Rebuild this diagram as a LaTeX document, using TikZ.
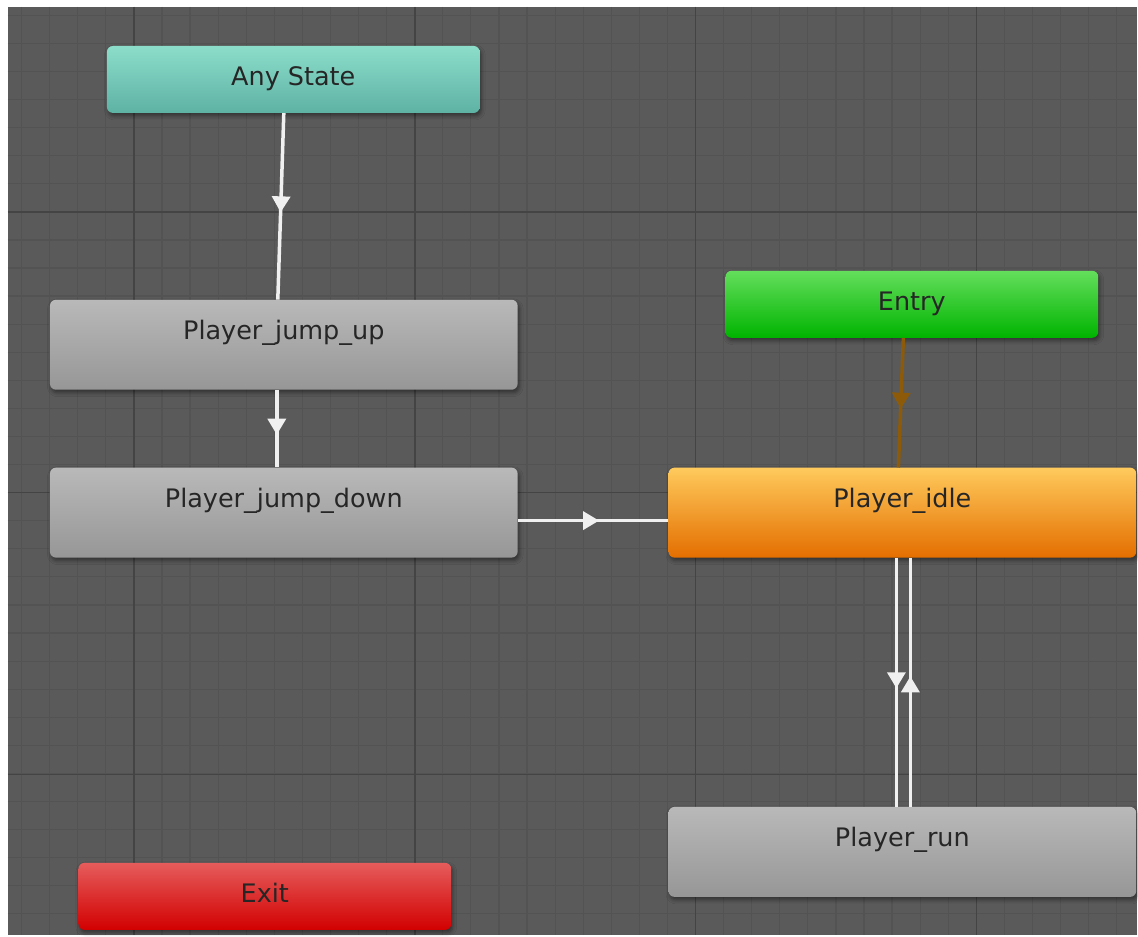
\documentclass[tikz,border=0pt]{standalone}
\usepackage{fontspec}
\setmainfont{DejaVu Sans}
\usepackage{xcolor}
\usetikzlibrary{arrows.meta, decorations.markings, shadows.blur}

% editor colours
\definecolor{canvasbg}{RGB}{90,90,90}
\definecolor{gridminor}{RGB}{83,83,83}
\definecolor{gridmajor}{RGB}{68,68,68}
\definecolor{entrylink}{RGB}{140,90,8}

\begin{document}
\begin{tikzpicture}[x=1pt, y=-1pt,
    state/.style={rectangle, rounded corners=6pt, inner sep=0pt,
        minimum width=468pt, minimum height=90pt,
        text height=20pt, text depth=31pt,
        font=\fontsize{25.5}{30}\selectfont, text=black!85,
        top color=gray!55!white, bottom color=gray!82!white,
        blur shadow={shadow xshift=1.5pt, shadow yshift=-3pt, shadow blur radius=4pt, shadow opacity=45}},
    short/.style={state, minimum width=373pt, minimum height=67pt, text depth=8pt},
    trans/.style={draw=white!94!black, line width=3.5pt, postaction={decorate},
        decoration={markings, mark=at position 0.5 with {\arrow[xshift=6pt]{Triangle[width=18pt,length=16pt]}}}},
]
    % canvas and grid
    \fill[white] (0,0) rectangle (1138,936);
    \fill[canvasbg] (8,7) rectangle (1138,936);
    \foreach \k in {-4,...,35}
        \draw[gridminor, line width=1.2pt] ({134+\k*28.1}, 7) -- ({134+\k*28.1}, 936);
    \foreach \k in {-7,...,25}
        \draw[gridminor, line width=1.2pt] (8, {212+\k*28.1}) -- (1138, {212+\k*28.1});
    \foreach \x in {134,415,696,977}
        \draw[gridmajor, line width=1.6pt] (\x, 7) -- (\x, 936);
    \foreach \y in {212,493,775}
        \draw[gridmajor, line width=1.6pt] (8, \y) -- (1138, \y);

    % states
    \node[short, top color={rgb,255:red,140;green,222;blue,202}, bottom color={rgb,255:red,94;green,178;blue,164}]
        (anystate) at (293.5, 79.5) {Any State};
    \node[short, top color={rgb,255:red,100;green,222;blue,92}, bottom color={rgb,255:red,0;green,180;blue,0}]
        (entry) at (912.5, 304.5) {Entry};
    \node[short, top color={rgb,255:red,230;green,92;blue,92}, bottom color={rgb,255:red,210;green,0;blue,0}]
        (exit) at (265, 897) {Exit};
    \node[state] (jumpup) at (284, 345) {Player\_jump\_up};
    \node[state] (jumpdown) at (284, 513) {Player\_jump\_down};
    \node[state, top color={rgb,255:red,255;green,202;blue,92}, bottom color={rgb,255:red,228;green,110;blue,0}]
        (idle) at (903, 513) {Player\_idle};
    \node[state] (run) at (903, 852.5) {Player\_run};

    % transitions
    \draw[trans] ([xshift=-9.5pt]anystate.south) -- ([xshift=-6pt]jumpup.north);
    \draw[trans] ([xshift=-7pt]jumpup.south) -- ([xshift=-7pt]jumpdown.north);
    \draw[trans] ([yshift=-8pt]jumpdown.east) -- ([yshift=-8pt]idle.west);
    \draw[trans, draw=entrylink] ([xshift=-8.5pt]entry.south) -- ([xshift=-4pt]idle.north);
    \draw[trans] ([xshift=-6pt]idle.south) -- ([xshift=-6pt]run.north);
    \draw[trans] ([xshift=8pt]run.north) -- ([xshift=8pt]idle.south);
\end{tikzpicture}
\end{document}
